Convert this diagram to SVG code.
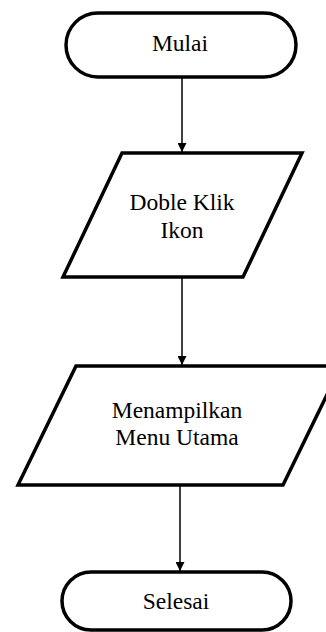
<svg xmlns="http://www.w3.org/2000/svg" width="326" height="632" viewBox="0 0 326 632">
<defs>
<marker id="ah" viewBox="0 0 10 10" refX="10" refY="5" markerWidth="9" markerHeight="9" markerUnits="userSpaceOnUse" orient="auto">
<path d="M0,0 L10,5 L0,10 z" fill="#000"/>
</marker>
<style>
.shape{fill:#fff;stroke:#000;stroke-width:3.5;stroke-linejoin:miter}
.lbl{font-family:"Liberation Serif","Times New Roman",serif;font-size:23.5px;fill:#000;text-anchor:middle}
.conn{stroke:#000;stroke-width:1.5;fill:none;marker-end:url(#ah)}
</style>
</defs>
<rect width="326" height="632" fill="#fff"/>
<g id="connectors">
<line class="conn" x1="182" y1="77" x2="182" y2="152"/>
<line class="conn" x1="182" y1="277" x2="182" y2="365"/>
<line class="conn" x1="180" y1="485" x2="180" y2="571"/>
</g>
<g id="mulai">
<rect class="shape" x="66" y="13" width="230" height="64" rx="32" ry="32"/>
<text class="lbl" x="180" y="51">Mulai</text>
</g>
<g id="doble-klik">
<polygon class="shape" points="122,153 302,153 243,277 63,277"/>
<text class="lbl" x="182" y="210">Doble Klik</text>
<text class="lbl" x="182" y="238">Ikon</text>
</g>
<g id="menampilkan">
<polygon class="shape" points="76,366 341,366 283,485 18,485"/>
<text class="lbl" x="177" y="418">Menampilkan</text>
<text class="lbl" x="177" y="445">Menu Utama</text>
</g>
<g id="selesai">
<rect class="shape" x="62" y="572" width="229" height="58" rx="29" ry="29"/>
<text class="lbl" x="176" y="609">Selesai</text>
</g>
</svg>
